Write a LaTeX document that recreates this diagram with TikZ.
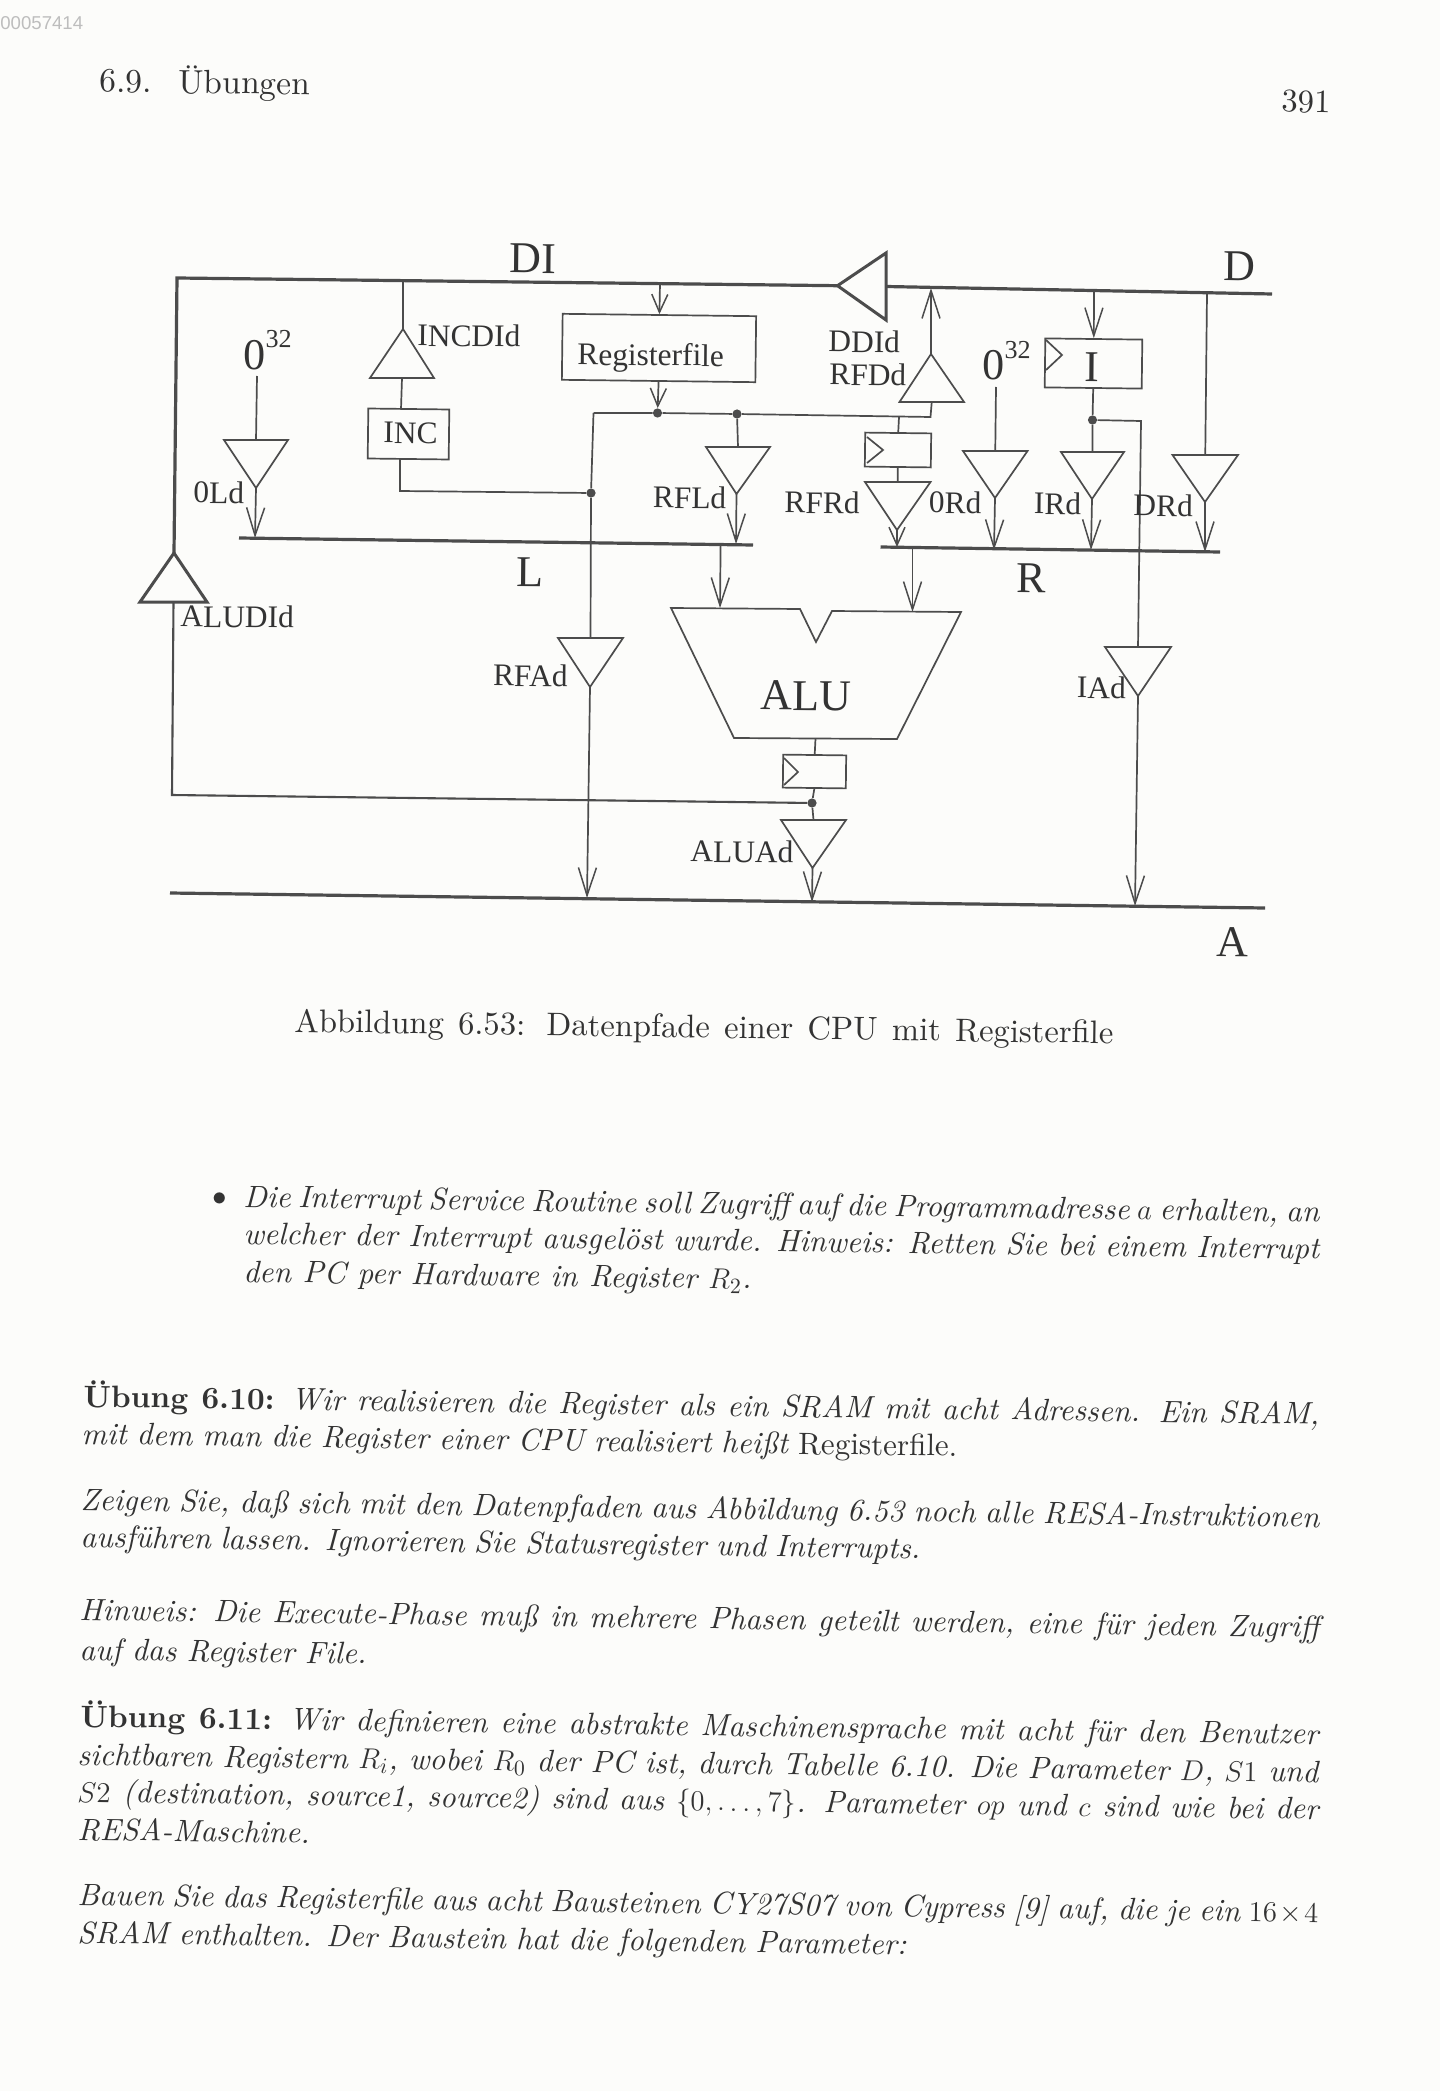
\documentclass[tikz,border=0pt]{standalone}
\usepackage{fontspec}
\setmainfont{lmroman10-regular.otf}[BoldFont=lmroman10-bold.otf,ItalicFont=lmroman10-italic.otf,Ligatures=TeX]
\usetikzlibrary{arrows.meta,calc}
\newfontfamily\figfont{Liberation Serif}
\newfontfamily\stampfont{Liberation Sans}
\definecolor{pagebg}{HTML}{FCFCFA}
\definecolor{ink}{HTML}{333333}
\definecolor{wire}{HTML}{4C4C4C}
\definecolor{stamp}{HTML}{BDBDBD}
\tikzset{
  thinw/.style={draw=wire,line width=.85pt,line join=miter},
  midw/.style={draw=wire,line width=1.5pt,line join=miter},
  connw/.style={draw=wire,line width=1.05pt,line join=miter},
  busw/.style={draw=wire,line width=1.6pt,line join=miter},
  arr/.style={thinw,-{Straight Barb[length=14pt,width=9pt,line width=.75pt]}},
  arrs/.style={thinw,-{Straight Barb[length=9pt,width=8pt,line width=.75pt]}},
  boxn/.style={thinw,rotate=-.7,inner sep=0pt},
  flab/.style={anchor=base west,inner sep=0pt,text=ink,rotate=-.5,xshift=-1pt,font=\figfont\fontsize{15.7}{18}\selectfont},
  blab/.style={flab,font=\figfont\fontsize{22}{24}\selectfont},
  txt/.style={anchor=base west,inner sep=0pt,text=ink,rotate=-.8,font=\fontsize{15.5}{19}\selectfont},
  captxt/.style={txt,font=\fontsize{16.3}{19}\selectfont},
  headtxt/.style={txt,font=\fontsize{16.8}{19}\selectfont},
  dotn/.style={circle,fill=wire,inner sep=0pt,minimum size=4.6pt},
}
% triangle driver: name, left, right, apex
\newcommand\tribuf[8][thinw]{%
  \coordinate (#2-l) at (#3,#4);
  \coordinate (#2-r) at (#5,#6);
  \coordinate (#2-a) at (#7,#8);
  \coordinate (#2-m) at ($(#2-l)!.5!(#2-r)$);
  \path[#1] (#2-l) -- (#2-r) -- (#2-a) -- cycle;
}
\newcommand\bl[5]{\node[txt] (#1) at (#2,#3) {\makebox[\dimexpr #4pt/2\relax][s]{#5}};}
\newcommand\cl[5]{\node[captxt] (#1) at (#2,#3) {\makebox[\dimexpr #4pt/2\relax][s]{#5}};}
\begin{document}
\begin{tikzpicture}[x=.5pt,y=-.5pt]
\useasboundingbox (0,0) rectangle (1440,2091);
\fill[pagebg] (0,0) rectangle (1440,2091);

% ---------- header ----------
\node[anchor=base west,inner sep=0pt,text=stamp,font=\stampfont\fontsize{9.3}{11}\selectfont] (stampn) at (0,30) {00057414};
\node[headtxt] (headl) at (99,92) {\makebox[105.5pt][s]{6.9.\ \ Übungen}};
\node[captxt] (pageno) at (1281,112) {391};

% ---------- triangles ----------
\tribuf[midw]{alud}{140}{602}{207}{602}{174}{553}
\tribuf[midw]{ddi}{886}{253}{886}{320}{837.5}{285.7}
\tribuf{oLd}{224}{440}{288}{440}{256}{488}
\tribuf{incd}{370}{378}{434}{378}{403}{329}
\tribuf{rfl}{706}{447}{770}{447}{736.5}{494}
\tribuf{rfa}{558}{638}{623}{638}{590}{687}
\tribuf{rfd}{899.5}{402}{964}{402}{931}{354}
\tribuf{rfr}{865}{482}{930.5}{482}{897}{530}
\tribuf{oRd}{963}{451}{1027.5}{451}{995}{498}
\tribuf{ird}{1061}{452}{1124}{452}{1092}{499}
\tribuf{drd}{1172.5}{455}{1238}{455}{1205}{502}
\tribuf{iad}{1105}{647}{1171}{647}{1138}{696}
\tribuf{alua}{781}{820}{846}{820}{812.5}{868}

% ---------- boxes ----------
\node[boxn,minimum width=96.75pt,minimum height=33pt] (rf) at (659,348) {};
\node[boxn,minimum width=40.5pt,minimum height=25pt] (inc) at (408.5,434) {};
\node[boxn,minimum width=48.5pt,minimum height=24.5pt] (ireg) at (1093.5,363.5) {};
\node[boxn,minimum width=33pt,minimum height=17pt] (rreg) at (898,450) {};
\node[boxn,minimum width=31.5pt,minimum height=16.5pt] (areg) at (814.5,771.5) {};
\path[thinw] (1046,340) -- (1062,355) -- (1046,370);
\path[thinw] (867,437) -- (883,450) -- (867,463);
\path[thinw] (784,758) -- (798,772) -- (784,785);

% ---------- ALU ----------
\coordinate (alu-tl) at (671,608);
\coordinate (alu-tr) at (961,612);
\coordinate (alu-br) at (897,739);
\coordinate (alu-bl) at (734,738);
\path[thinw] (alu-tl) -- (800,609) -- (816,642) -- (832,611) -- (alu-tr) -- (alu-br) -- (alu-bl) -- cycle;

% ---------- buses ----------
\coordinate (cnrTL) at (177,278);
\coordinate (dEnd) at (1272,294);
\coordinate (lS) at (239,538);
\coordinate (lE) at (753,545);
\coordinate (rS) at (880.5,547);
\coordinate (rE) at (1220,552);
\coordinate (aS) at (170,893);
\coordinate (aE) at (1265,908);
\path[busw] (alud-a) -- (cnrTL) -- (ddi-a);
\path[busw] (ddi-m) -- (dEnd);
\path[busw] (lS) -- (lE);
\path[busw] (rS) -- (rE);
\path[busw] (aS) -- (aE);

% ---------- junctions ----------
\node[dotn] (dRf) at (657.5,413) {};
\node[dotn] (dRfl) at (737,414) {};
\node[dotn] (dInc) at (591,493) {};
\node[dotn] (dI) at (1092.5,420) {};
\node[dotn] (dAlu) at (812,803) {};

\coordinate (onDiInc) at (403,280);
\coordinate (onDiRf) at (660,283);
\coordinate (onDRfd) at (931,288);
\coordinate (onDI) at (1094,290);
\coordinate (onDDr) at (1207,293);
\coordinate (onLo) at (255,538);
\coordinate (onLr) at (736,544);
\coordinate (onLa) at (720.6,545);
\coordinate (aluIL) at (720,608);
\coordinate (onRr) at (897,547);
\coordinate (onRa) at (912.5,548);
\coordinate (aluIR) at (912.5,612);
\coordinate (onRo) at (994,550);
\coordinate (onRi) at (1091,550);
\coordinate (onRd) at (1205,552);
\coordinate (onAr) at (587,898);
\coordinate (onAa) at (812,902);
\coordinate (onAi) at (1135,906);
\coordinate (zeroL) at (257,376);
\coordinate (zeroR) at (996,387);
\coordinate (cIncB) at (400,491);
\coordinate (cRfL) at (593.5,413);
\coordinate (cRfR) at (930.5,417);
\coordinate (cRfT) at (899,417);
\coordinate (cI) at (1141,421);
\coordinate (cAluB) at (172,795);
\coordinate (incOut) at (400,459);
\coordinate (incIn) at (401,409);

% ---------- connectors ----------
\draw[arrs] (onDiRf) -- (rf.north);
\draw[arrs] (rf.south) -- (dRf);
\path[thinw] (onDiInc) -- (incd-a);
\path[thinw] (incd-m) -- (incIn);
\path[thinw] (incOut) -- (cIncB) -- (dInc);
\path[thinw] (zeroL) -- (oLd-m);
\draw[arr] (oLd-a) -- (onLo);
\path[thinw] (cRfL) -- (dRf) -- (dRfl) -- (cRfR) -- (rfd-m);
\path[thinw] (cRfL) -- (dInc) -- (rfa-m);
\path[thinw] (dRfl) -- (rfl-m);
\draw[arr] (rfl-a) -- (onLr);
\draw[arr] (rfa-a) -- (onAr);
\draw[arr] (onLa) -- (aluIL);
\draw[arr] (rfd-a) -- (onDRfd);
\path[thinw] (cRfT) -- (rreg.north);
\path[thinw] (rreg.south) -- (rfr-m);
\draw[arrs] (rfr-a) -- (onRr);
\draw[arr] (onRa) -- (aluIR);
\path[thinw] (zeroR) -- (oRd-m);
\draw[arr] (oRd-a) -- (onRo);
\draw[arr] (onDI) -- (ireg.north);
\path[thinw] (ireg.south) -- (dI) -- (ird-m);
\draw[arr] (ird-a) -- (onRi);
\path[thinw] (dI) -- (cI) -- (iad-m);
\draw[arr] (iad-a) -- (onAi);
\path[thinw] (onDDr) -- (drd-m);
\draw[arr] (drd-a) -- (onRd);
\path[thinw] ($(alu-bl)!.5!(alu-br)$) -- (areg.north);
\path[thinw] (areg.south) -- (dAlu) -- (alua-m);
\draw[arr] (alua-a) -- (onAa);
\path[connw] (alud-m) -- (cAluB) -- (dAlu);

% ---------- diagram labels ----------
\node[blab] (nDI) at (511,273) {DI};
\node[blab] (nD) at (1225,281) {D};
\node[blab] (nL) at (518,587) {L};
\node[blab] (nR) at (1018,593) {R};
\node[blab] (nA) at (1218,957) {A};
\node[blab] (nALU) at (762,710) {ALU};
\node[blab] (nI) at (1086,382) {I};
\node[blab] (nz1) at (245,370) {0\raisebox{11.5pt}{\fontsize{13}{14}\selectfont 32}};
\node[blab] (nz2) at (984,380) {0\raisebox{11pt}{\fontsize{13}{14}\selectfont 32}};
\node[flab] (nRF) at (579,365) {Registerfile};
\node[flab] (nINC) at (385,443) {INC};
\node[flab] (nINCD) at (419,346) {INCDId};
\node[flab] (nOL) at (195,503) {0Ld};
\node[flab] (nRFL) at (654.5,508) {RFLd};
\node[flab] (nRFA) at (494.6,686) {RFAd};
\node[flab] (nALUD) at (182,627) {ALUDId};
\node[flab] (nALUA) at (692,862) {ALUAd};
\node[flab] (nIA) at (1078.5,698) {IAd};
\node[flab] (nDD) at (830,352) {DDId};
\node[flab] (nRFD) at (831,385) {RFDd};
\node[flab] (nRFR) at (786,513) {RFRd};
\node[flab] (nOR) at (930.5,513) {0Rd};
\node[flab] (nIR) at (1035.5,514) {IRd};
\node[flab] (nDR) at (1135,516) {DRd};

% ---------- caption and body ----------
\cl{capt}{294}{1032}{819}{Abbildung 6.53: Datenpfade einer CPU mit Registerfile}
\node[txt] (bull) at (212,1205) {$\bullet$};
\bl{b1}{243}{1207}{1076}{\itshape Die Interrupt Service Routine soll Zugriff auf die Programmadresse $a$ erhalten, an}
\bl{b2}{243}{1244}{1076}{\itshape welcher der Interrupt ausgelöst wurde. Hinweis: Retten Sie bei einem Interrupt}
\bl{b3}{243}{1282}{508}{\itshape den PC per Hardware in Register $R_2$.}
\bl{u1}{83}{1407}{1236}{\textbf{Übung 6.10:} \itshape Wir realisieren die Register als ein SRAM mit acht Adressen. Ein SRAM,}
\bl{u2}{81}{1444}{876}{\itshape mit dem man die Register einer CPU realisiert heißt \upshape Registerfile.}
\bl{u3}{80}{1510}{1239}{\itshape Zeigen Sie, daß sich mit den Datenpfaden aus Abbildung 6.53 noch alle RESA-Instruktionen}
\bl{u4}{80}{1547}{840}{\itshape ausführen lassen. Ignorieren Sie Statusregister und Interrupts.}
\bl{u5}{79}{1620}{1240}{\itshape Hinweis: Die Execute-Phase muß in mehrere Phasen geteilt werden, eine für jeden Zugriff}
\bl{u6}{79}{1660}{287}{\itshape auf das Register File.}
\bl{v1}{80}{1727}{1238}{\textbf{Übung 6.11:} \itshape Wir definieren eine abstrakte Maschinensprache mit acht für den Benutzer}
\bl{v2}{77}{1765}{1241}{\itshape sichtbaren Registern $R_i$, wobei $R_0$ der PC ist, durch Tabelle 6.10. Die Parameter $D$, $S1$ und}
\bl{v3}{77}{1802}{1241}{\itshape $S2$ (destination, source1, source2) sind aus $\{0,\ldots,7\}$. Parameter $op$ und $c$ sind wie bei der}
\bl{v4}{77}{1840}{228}{\itshape RESA-Maschine.}
\bl{v5}{77}{1905}{1241}{\itshape Bauen Sie das Registerfile aus acht Bausteinen CY27S07 von Cypress [9] auf, die je ein $16\times 4$}
\bl{v6}{77}{1943}{829}{\itshape SRAM enthalten. Der Baustein hat die folgenden Parameter:}
\end{tikzpicture}
\end{document}
